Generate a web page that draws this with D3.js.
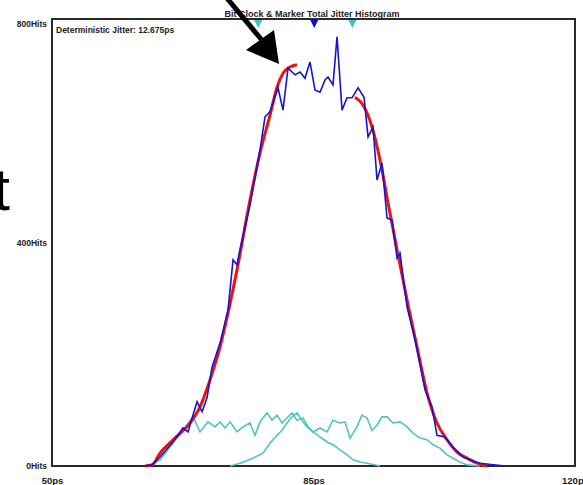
<!DOCTYPE html>
<html>
<head>
<meta charset="utf-8">
<script src="https://cdn.jsdelivr.net/npm/d3@7"></script>
<style>
  body { margin: 0; background: #fff; }
  svg { display: block; }
</style>
</head>
<body>
<div id="myChart"></div>
<script>
// histogram data (ps, hits)
var blueTime = [62.45, 63.39, 64.46, 66.20, 67.53, 68.20, 69.41, 70.08, 70.75, 71.42, 72.49, 73.56, 74.23, 74.76, 75.16, 76.50, 77.84, 78.51, 79.18, 80.25, 80.92, 81.59, 82.53, 83.20, 83.86, 84.53, 85.20, 85.87, 86.54, 86.94, 87.61, 88.15, 88.82, 89.49, 90.16, 90.96, 91.76, 92.30, 92.97, 93.50, 94.17, 94.84, 95.51, 96.18, 96.58, 97.52, 98.59, 99.93, 100.86, 101.53, 102.60, 103.67, 105.01, 106.35, 107.29, 110.63];
var blueHits = [0, 2, 16, 43, 68, 61, 115, 97, 122, 177, 220, 279, 369, 360, 387, 467, 566, 625, 634, 677, 637, 712, 700, 705, 694, 723, 673, 669, 691, 696, 682, 768, 637, 659, 659, 677, 660, 589, 607, 512, 542, 444, 440, 372, 381, 285, 226, 136, 106, 55, 52, 34, 16, 9, 5, 0];

// fitted tails
var redLeftTime = [62.45, 63.39, 64.46, 66.20, 68.47, 69.81, 71.15, 72.49, 73.56, 74.76, 76.50, 77.84, 79.18, 80.12, 80.92, 81.86, 82.79];
var redLeftHits = [0, 2, 23, 47, 77, 106, 154, 213, 274, 351, 476, 560, 628, 678, 703, 714, 718];
var redRightTime = [90.56, 91.63, 92.83, 94.17, 94.97, 96.18, 97.52, 98.86, 100.19, 101.53, 102.87, 104.21, 105.55, 106.89, 108.22];
var redRightHits = [660, 646, 607, 530, 471, 387, 297, 213, 131, 77, 47, 25, 14, 5, 0];

// bit clock / marker components
var cyanATime = [62.45, 63.12, 64.46, 66.20, 67.53, 68.87, 69.81, 70.88, 71.82, 72.49, 73.16, 73.83, 74.76, 75.57, 76.50, 77.17, 77.84, 78.78, 79.45, 80.12, 80.79, 81.45, 82.12, 82.79, 83.60, 84.27, 84.94, 85.87, 86.81, 87.61, 88.55, 89.49, 90.29, 91.23, 92.16, 93.90];
var cyanAHits = [0, 2, 11, 41, 64, 88, 61, 79, 70, 79, 68, 79, 61, 70, 77, 55, 79, 95, 82, 91, 77, 86, 95, 82, 86, 70, 61, 52, 43, 38, 29, 20, 11, 7, 5, 0];
var cyanBTime = [73.83, 75.16, 76.90, 78.24, 79.18, 80.12, 80.79, 81.45, 82.12, 82.79, 83.46, 84.13, 84.94, 85.87, 86.81, 87.61, 88.55, 89.22, 89.89, 90.82, 91.49, 92.16, 92.83, 93.50, 94.17, 94.84, 95.64, 96.58, 97.52, 98.32, 99.26, 100.19, 101.00, 101.93, 102.87, 103.67, 104.61, 105.55, 107.29];
var cyanBHits = [0, 5, 14, 23, 41, 55, 64, 77, 88, 95, 82, 70, 61, 68, 61, 82, 77, 79, 50, 70, 91, 86, 64, 73, 88, 88, 77, 79, 70, 59, 50, 47, 38, 32, 20, 14, 7, 2, 0];

// markers along the top
var markerTime = [77.6, 85.1, 90.2];
var markerColor = ["#3fc4c4", "#0a0ae0", "#3fc4c4"];

var xTicks = [50, 85, 120];
var yTicks = [0, 400, 800];

var W = 583, H = 485;
var plot = {left: 52, top: 19, right: 575, bottom: 466};

var svg = d3.select("#myChart")
  .append("svg")
    .attr("width", W)
    .attr("height", H)
    .attr("font-family", "Liberation Sans, Arial, sans-serif");

var x = d3.scaleLinear().domain([50, 120]).range([plot.left, plot.right]);
var y = d3.scaleLinear().domain([0, 800]).range([plot.bottom, plot.top]);

// title
svg.append("text")
  .attr("x", 312)
  .attr("y", 17)
  .attr("text-anchor", "middle")
  .attr("font-size", "9px")
  .attr("font-weight", "bold")
  .attr("fill", "#222")
  .text("Bit Clock & Marker Total Jitter Histogram");

// frame
svg.append("rect")
  .attr("x", plot.left)
  .attr("y", plot.top)
  .attr("width", plot.right - plot.left)
  .attr("height", plot.bottom - plot.top)
  .attr("fill", "#fff")
  .attr("stroke", "#2a2a2a")
  .attr("stroke-width", 2);

svg.append("text")
  .attr("x", 56)
  .attr("y", 33)
  .attr("font-size", "8.5px")
  .attr("font-weight", "bold")
  .attr("fill", "#222")
  .text("Deterministic Jitter: 12.675ps");

// axes
svg.append("g")
  .attr("transform", "translate(0," + plot.bottom + ")")
  .call(d3.axisBottom(x).tickValues(xTicks).tickSize(0).tickPadding(11)
    .tickFormat(function(d) { return d + "ps"; }))
  .call(function(g) { g.select(".domain").remove(); })
  .selectAll("text")
    .attr("font-size", "9.5px")
    .attr("font-weight", "bold")
    .attr("font-family", "Liberation Sans, Arial, sans-serif")
    .attr("fill", "#222");

svg.append("g")
  .attr("transform", "translate(" + plot.left + ",0)")
  .call(d3.axisLeft(y).tickValues(yTicks).tickSize(0).tickPadding(5)
    .tickFormat(function(d) { return d + "Hits"; }))
  .call(function(g) { g.select(".domain").remove(); })
  .selectAll("text")
    .attr("font-size", "8.5px")
    .attr("font-weight", "bold")
    .attr("font-family", "Liberation Sans, Arial, sans-serif")
    .attr("fill", "#222")
    .attr("dy", function(d) { return d == 800 ? "0.9em" : "0.32em"; });

var line = d3.line()
  .x(function(d) { return x(d[0]); })
  .y(function(d) { return y(d[1]); });

function pairs(t, h) { return t.map(function(v, i) { return [v, h[i]]; }); }

// cyan components
[[cyanATime, cyanAHits], [cyanBTime, cyanBHits]].forEach(function(s) {
  svg.append("path")
    .datum(pairs(s[0], s[1]))
    .attr("d", line)
    .attr("fill", "none")
    .attr("stroke", "#52c3c3")
    .attr("stroke-width", 1.6);
});

// red fit tails
[[redLeftTime, redLeftHits], [redRightTime, redRightHits]].forEach(function(s) {
  svg.append("path")
    .datum(pairs(s[0], s[1]))
    .attr("d", d3.line().curve(d3.curveMonotoneX).x(function(d) { return x(d[0]); }).y(function(d) { return y(d[1]); }))
    .attr("fill", "none")
    .attr("stroke", "#f01010")
    .attr("stroke-width", 3);
});

// measured histogram
svg.append("path")
  .datum(pairs(blueTime, blueHits))
  .attr("d", line)
  .attr("fill", "none")
  .attr("stroke", "#1414d8")
  .attr("stroke-width", 1.6);

// markers
svg.selectAll("path.marker")
  .data(markerTime)
  .enter()
  .append("path")
    .attr("class", "marker")
    .attr("d", function(d) {
      var cx = x(d);
      return "M" + (cx - 4) + "," + (plot.top + 1) + "L" + (cx + 4) + "," + (plot.top + 1) + "L" + cx + "," + (plot.top + 9) + "Z";
    })
    .attr("fill", function(d, i) { return markerColor[i]; });

// slide annotation: arrow and cut-off text
svg.append("line")
  .attr("x1", 226).attr("y1", -3)
  .attr("x2", 266).attr("y2", 45)
  .attr("stroke", "#000")
  .attr("stroke-width", 5);

svg.append("path")
  .attr("d", "M246,50L274,30L279,64Z")
  .attr("fill", "#000");

svg.append("text")
  .attr("x", 10)
  .attr("y", 210)
  .attr("text-anchor", "end")
  .attr("font-size", "60px")
  .attr("fill", "#000")
  .text("t");
</script>
</body>
</html>
